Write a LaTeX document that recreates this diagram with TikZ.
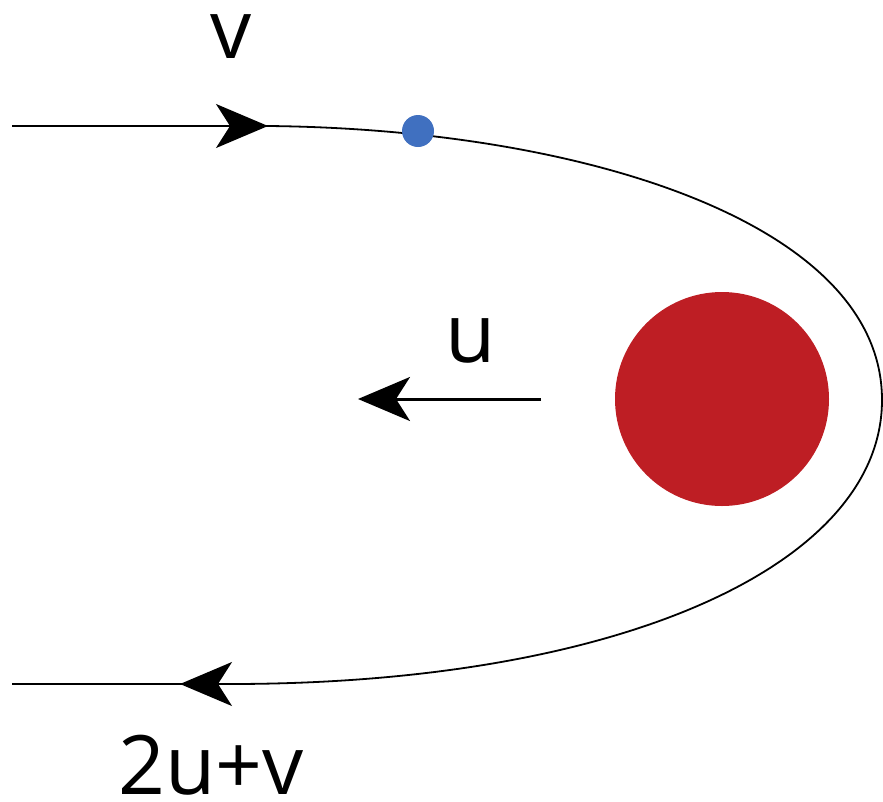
\documentclass[tikz,border=0pt]{standalone}
\usepackage{fontspec}
\setmainfont{Open Sans}
\usetikzlibrary{arrows.meta}
\definecolor{planetred}{HTML}{BE1E24}
\definecolor{probeblue}{HTML}{4070C0}
\begin{document}
\begin{tikzpicture}[x=1pt,y=-1pt,
  orbit/.style={line width=1.8pt,black},
  tip/.style={-{Stealth[length=52pt,width=44pt,inset=14pt]}},
  lab/.style={font=\fontsize{82}{82}\selectfont,anchor=base,inner sep=0pt}]
\useasboundingbox (0,0) rectangle (883,801);
% planet and probe
\node[circle,fill=planetred,minimum size=214pt,inner sep=0pt] (planet) at (722,399) {};
% path
\coordinate (s) at (12,126);
\coordinate (a) at (268,126);
\coordinate (r) at (882,400);
\coordinate (b) at (230,684);
\coordinate (e) at (12,684);
\draw[orbit] (s) -- (a) .. controls (580,129) and (882,222) .. (r)
  .. controls (882,565) and (620,684) .. (b) -- (e);
\node[circle,fill=probeblue,minimum size=32pt,inner sep=0pt] (dot) at (418,131) {};
% arrowheads on path
\coordinate (at0) at (200,126);
\draw[orbit,tip] (at0) -- (a);
\coordinate (bt0) at (232,684);
\coordinate (bt1) at (180,684);
\draw[orbit,tip] (bt0) -- (bt1);
% planet velocity
\coordinate (u0) at (541,399);
\coordinate (u1) at (358,399);
\draw[line width=3pt,tip] (u0) -- (u1);
% labels
\node[lab] (lv) at (231,58) {v};
\node[lab] (lu) at (471,362) {u};
\node[lab] (l2) at (211,794) {2u+v};
\end{tikzpicture}
\end{document}
